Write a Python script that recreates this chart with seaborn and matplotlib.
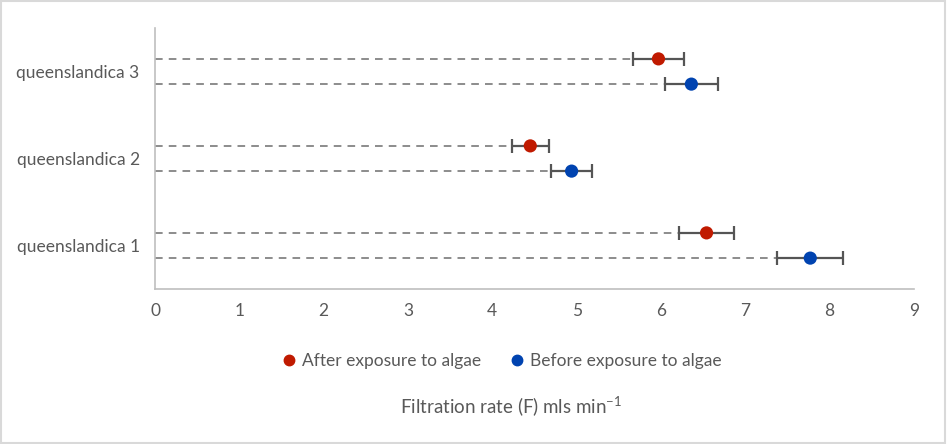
import matplotlib
matplotlib.use("Agg")
import matplotlib.pyplot as plt
import seaborn as sns
import pandas as pd
import numpy as np

# data
categories = ["queenslandica 1", "queenslandica 2", "queenslandica 3"]
after_rate = [6.54, 4.45, 5.97]
after_err = [0.33, 0.22, 0.30]
before_rate = [7.77, 4.94, 6.36]
before_err = [0.39, 0.24, 0.31]
series = ["After exposure to algae", "Before exposure to algae"]
x_ticks = [0, 1, 2, 3, 4, 5, 6, 7, 8, 9]

colors = {series[0]: "#C01A00", series[1]: "#0043B0"}
offsets = {series[0]: 0.145, series[1]: -0.145}

rows = []
for i, cat in enumerate(categories):
    rows.append({"cat": cat, "pos": i + 1 + offsets[series[0]], "series": series[0],
                 "rate": after_rate[i], "err": after_err[i]})
    rows.append({"cat": cat, "pos": i + 1 + offsets[series[1]], "series": series[1],
                 "rate": before_rate[i], "err": before_err[i]})
df = pd.DataFrame(rows)

sns.set_theme(style="white")
plt.rcParams["font.family"] = ["Lato", "DejaVu Sans"]

fig = plt.figure(figsize=(9.47, 4.44), dpi=100)
ax = fig.add_axes([155 / 947, 1 - 289 / 444, (914 - 155) / 947, (289 - 28) / 444])

# dashed lead lines from 0 to the lower error cap
for _, r in df.iterrows():
    ax.plot([0, r["rate"] - r["err"]], [r["pos"], r["pos"]], color="#6e6e6e",
            linestyle=(0, (5, 4)), linewidth=1.1, zorder=1)

ax.errorbar(df["rate"], df["pos"], xerr=df["err"], fmt="none", ecolor="#555555",
            elinewidth=1.6, capsize=5, capthick=1.6, zorder=2)

sns.scatterplot(data=df, x="rate", y="pos", hue="series", palette=colors,
                s=90, edgecolor="none", ax=ax, zorder=3, legend=False)

ax.set_xlim(0, 9)
ax.set_ylim(0.5, 3.5)
ax.set_xticks(x_ticks)
ax.set_yticks([1, 2, 3])
ax.set_yticklabels(categories)
ax.tick_params(axis="both", length=0, labelsize=12.5, colors="#595959", pad=10)
ax.tick_params(axis="y", pad=11)
ax.set_xlabel("")
ax.set_ylabel("")
for side in ["top", "right"]:
    ax.spines[side].set_visible(False)
for side in ["left", "bottom"]:
    ax.spines[side].set_color("#bfbfbf")
    ax.spines[side].set_linewidth(1.2)

handles = [plt.Line2D([], [], marker="o", linestyle="none", markersize=7.5,
                      color=colors[s], label=s) for s in series]
fig.legend(handles=handles, loc="center", bbox_to_anchor=(500 / 947, 1 - 361 / 444),
           ncol=2, frameon=False, fontsize=12.5, handletextpad=0.15, columnspacing=1.5,
           handlelength=1.2, labelcolor="#595959")

fig.text(511 / 947, 1 - 407 / 444, r"Filtration rate (F) mls min$^{\mathregular{-1}}$",
         ha="center", va="center", fontsize=13.5, color="#595959")

# light grey border round the whole chart
fig.patches.append(plt.Rectangle((0.001, 0.002), 0.997, 0.995, transform=fig.transFigure,
                                 fill=False, edgecolor="#d9d9d9", linewidth=1.5))

fig.savefig("out.png", dpi=100)
